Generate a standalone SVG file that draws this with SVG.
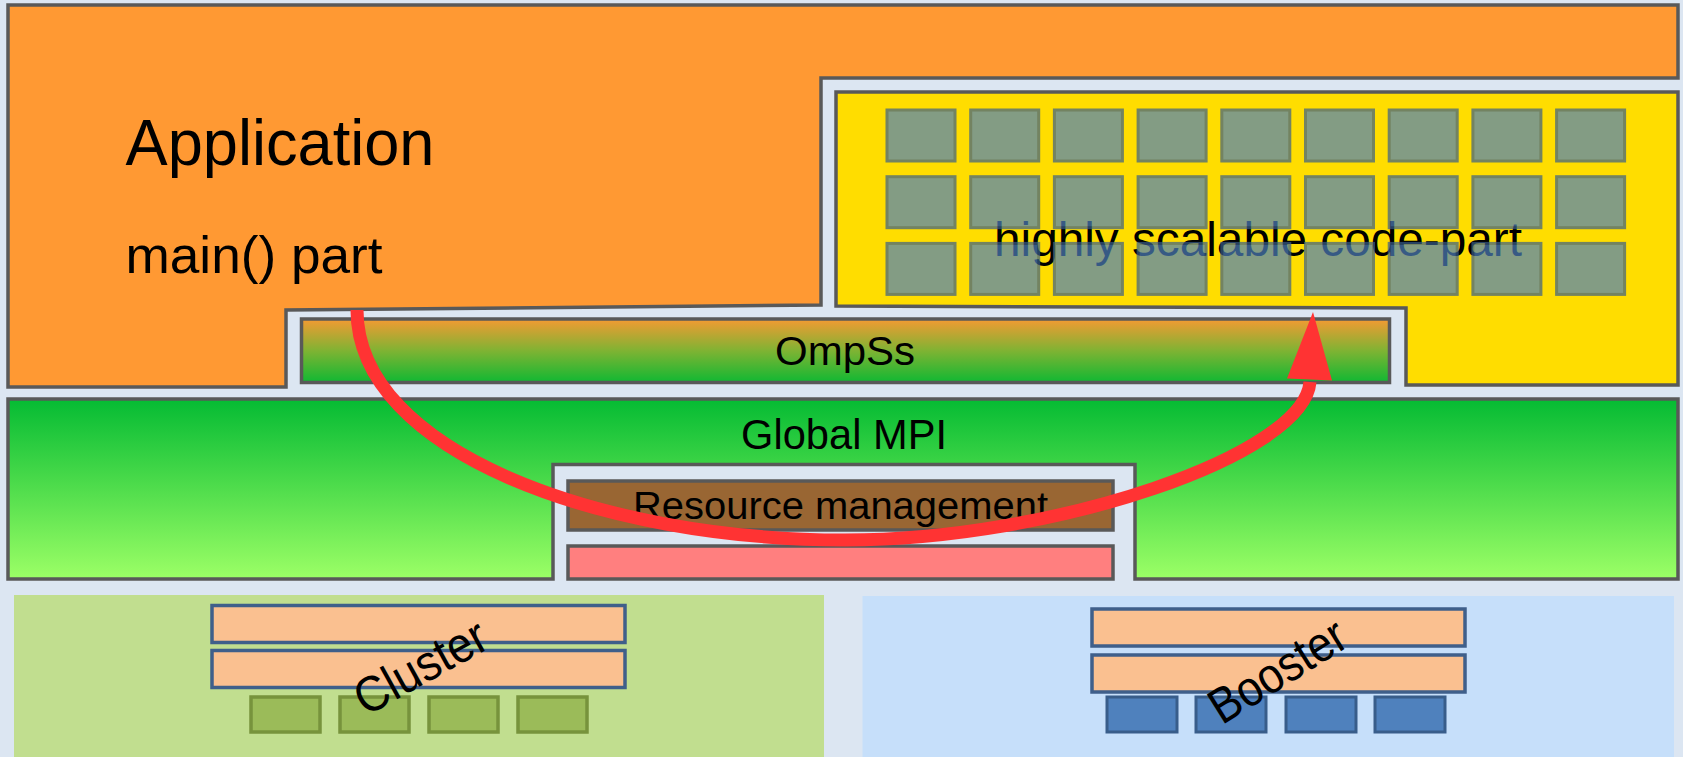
<svg xmlns="http://www.w3.org/2000/svg" width="1683" height="757" viewBox="0 0 1683 757">
  <defs>
    <linearGradient id="gradMPI" x1="0" y1="0" x2="0" y2="1">
      <stop offset="0" stop-color="#05bb33"/>
      <stop offset="1" stop-color="#9cff66"/>
    </linearGradient>
    <linearGradient id="gradOmpSs" x1="0" y1="0" x2="0" y2="1">
      <stop offset="0" stop-color="#f49a33"/>
      <stop offset="0.5" stop-color="#7fb333"/>
      <stop offset="1" stop-color="#10b833"/>
    </linearGradient>
  </defs>
  <style>
    .layer { stroke: #595959; stroke-width: 3.5; }
    .lbl { font-family: "Liberation Sans", Arial, sans-serif; fill: #000; }
    .core { fill: #4f81bd; stroke: #385d8a; stroke-width: 3; }
    .cell { fill: #4f81bd; stroke: #385d8a; stroke-width: 3; }
    .bar { fill: #fac090; stroke: #3f5f8a; stroke-width: 3.5; }
    .ccell { fill: #9bbb59; stroke: #77933c; stroke-width: 3.5; }
    .arrow { fill: none; stroke: #ff3333; stroke-width: 13; }
  </style>

  <rect width="1683" height="757" fill="#dce6f2"/>

  <g id="application">
    <polygon class="layer" fill="#ff9933" points="8,5 1678,5 1678,78 821,78 821,305 286,310 286,387 8,387"/>
    <text class="lbl" x="125.5" y="165" font-size="65" textLength="309" lengthAdjust="spacingAndGlyphs">Application</text>
    <text class="lbl" x="125.5" y="273" font-size="52" textLength="257" lengthAdjust="spacingAndGlyphs">main() part</text>
  </g>

  <g id="scalable-part">
    <polygon class="layer" fill="#ffdd00" points="836,92 1678,92 1678,385 1406,385 1406,308 836,306"/>
    <text class="lbl" x="994" y="256" font-size="48" textLength="528" lengthAdjust="spacingAndGlyphs">highly scalable code-part</text>
    <!-- translucent cores let the label show through -->
    <g opacity="0.7">
      <g id="cores-row1">
        <rect class="cell" x="887" y="110" width="68" height="51"/>
        <rect class="cell" x="970.7" y="110" width="68" height="51"/>
        <rect class="cell" x="1054.4" y="110" width="68" height="51"/>
        <rect class="cell" x="1138.1" y="110" width="68" height="51"/>
        <rect class="cell" x="1221.8" y="110" width="68" height="51"/>
        <rect class="cell" x="1305.5" y="110" width="68" height="51"/>
        <rect class="cell" x="1389.2" y="110" width="68" height="51"/>
        <rect class="cell" x="1472.9" y="110" width="68" height="51"/>
        <rect class="cell" x="1556.6" y="110" width="68" height="51"/>
      </g>
      <g id="cores-row2">
        <rect class="cell" x="887" y="176.7" width="68" height="51"/>
        <rect class="cell" x="970.7" y="176.7" width="68" height="51"/>
        <rect class="cell" x="1054.4" y="176.7" width="68" height="51"/>
        <rect class="cell" x="1138.1" y="176.7" width="68" height="51"/>
        <rect class="cell" x="1221.8" y="176.7" width="68" height="51"/>
        <rect class="cell" x="1305.5" y="176.7" width="68" height="51"/>
        <rect class="cell" x="1389.2" y="176.7" width="68" height="51"/>
        <rect class="cell" x="1472.9" y="176.7" width="68" height="51"/>
        <rect class="cell" x="1556.6" y="176.7" width="68" height="51"/>
      </g>
      <g id="cores-row3">
        <rect class="cell" x="887" y="243.4" width="68" height="51"/>
        <rect class="cell" x="970.7" y="243.4" width="68" height="51"/>
        <rect class="cell" x="1054.4" y="243.4" width="68" height="51"/>
        <rect class="cell" x="1138.1" y="243.4" width="68" height="51"/>
        <rect class="cell" x="1221.8" y="243.4" width="68" height="51"/>
        <rect class="cell" x="1305.5" y="243.4" width="68" height="51"/>
        <rect class="cell" x="1389.2" y="243.4" width="68" height="51"/>
        <rect class="cell" x="1472.9" y="243.4" width="68" height="51"/>
        <rect class="cell" x="1556.6" y="243.4" width="68" height="51"/>
      </g>
    </g>
  </g>

  <g id="ompss">
    <rect class="layer" x="301.5" y="319" width="1088" height="63.5" fill="url(#gradOmpSs)"/>
    <text class="lbl" x="775" y="365" font-size="40" textLength="140" lengthAdjust="spacingAndGlyphs">OmpSs</text>
  </g>

  <g id="global-mpi">
    <polygon class="layer" fill="url(#gradMPI)" points="8,399 1678,399 1678,579 1135,579 1135,464.5 553,464.5 553,579 8,579"/>
    <text class="lbl" x="741" y="448.5" font-size="42" textLength="206" lengthAdjust="spacingAndGlyphs">Global MPI</text>
  </g>

  <g id="resource-management">
    <rect class="layer" x="568" y="481" width="545" height="49" fill="#996633"/>
    <text class="lbl" x="633" y="519" font-size="38" textLength="415" lengthAdjust="spacingAndGlyphs">Resource management</text>
  </g>

  <g id="low-level-layer">
    <rect class="layer" x="568" y="546" width="545" height="33" fill="#ff7f7f"/>
  </g>

  <g id="cluster">
    <rect x="14" y="595" width="810" height="162" fill="#c1de8f"/>
    <rect class="bar" x="212" y="605.5" width="413" height="37"/>
    <rect class="bar" x="212" y="650.5" width="413" height="37"/>
    <rect class="ccell" x="251" y="697" width="69" height="35"/>
    <rect class="ccell" x="340" y="697" width="69" height="35"/>
    <rect class="ccell" x="429" y="697" width="69" height="35"/>
    <rect class="ccell" x="518" y="697" width="69" height="35"/>
    <text class="lbl" font-size="50" text-anchor="middle" textLength="144" lengthAdjust="spacingAndGlyphs" transform="translate(420,666) rotate(-29)" x="0" y="18">Cluster</text>
  </g>

  <g id="booster">
    <rect x="862.5" y="596" width="811.5" height="161" fill="#c6dffa"/>
    <rect class="bar" x="1092" y="609" width="373" height="37"/>
    <rect class="bar" x="1092" y="655" width="373" height="37"/>
    <rect class="core" x="1107" y="697" width="70" height="35"/>
    <rect class="core" x="1196" y="697" width="70" height="35"/>
    <rect class="core" x="1286" y="697" width="70" height="35"/>
    <rect class="core" x="1375" y="697" width="70" height="35"/>
    <text class="lbl" font-size="50" text-anchor="middle" textLength="152" lengthAdjust="spacingAndGlyphs" transform="translate(1277,670) rotate(-32)" x="0" y="18">Booster</text>
  </g>

  <g id="connectors">
    <path class="arrow" d="M357,310 C357,452 602,540 845,540 C1055,540 1304,455 1310,382"/>
    <polygon fill="#ff3333" points="1313,312 1287,378.5 1332,380.5"/>
  </g>
</svg>
